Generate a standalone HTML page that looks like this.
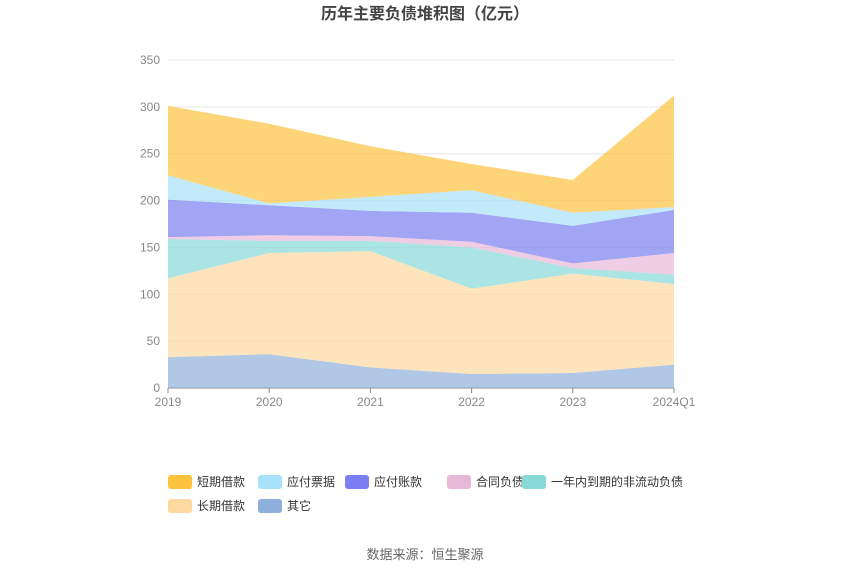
<!DOCTYPE html>
<html><head><meta charset="utf-8"><style>
body{margin:0;background:#fff;width:850px;height:575px;overflow:hidden;font-family:"Liberation Sans","Noto Sans CJK SC",sans-serif;}
</style></head><body>
<svg id="chart" width="850" height="575" xmlns="http://www.w3.org/2000/svg">
<text x="425" y="19" text-anchor="middle" font-size="16" font-weight="bold" fill="#444">历年主要负债堆积图（亿元）</text>
<g id="grid"></g><g id="areas"></g><g id="axes"></g><g id="legend"></g>
<text x="425" y="559" text-anchor="middle" font-size="13" fill="#666">数据来源：恒生聚源</text>
</svg>
<script>
const categories=["2019","2020","2021","2022","2023","2024Q1"];
const seriesNames=["其它","长期借款","一年内到期的非流动负债","合同负债","应付账款","应付票据","短期借款"];
const other=[33,36,22,15,16,25];
const longLoan=[84,108,124,91,106,86];
const currentNonCurrent=[42,13,11,44,6,10];
const contract=[2,6,5,6,5,23];
const payables=[40,32,27,31,40,46];
const notes=[26,2,15,24,14,3];
const shortLoan=[74,85,54,28,35,119];
const yTicks=[0,50,100,150,200,250,300,350];
const legendOrder=["短期借款","应付票据","应付账款","合同负债","一年内到期的非流动负债","长期借款","其它"];
const seriesData=[other,longLoan,currentNonCurrent,contract,payables,notes,shortLoan];
const colors={"其它":"#8fb0dc","长期借款":"#fdd9a0","一年内到期的非流动负债":"#88d8d8","合同负债":"#e8b8d8","应付账款":"#7b7ef0","应付票据":"#a8e1fa","短期借款":"#fdc23e"};
const slugs={"其它":"other","长期借款":"long-term-loan","一年内到期的非流动负债":"current-noncurrent","合同负债":"contract-liab","应付账款":"accounts-payable","应付票据":"notes-payable","短期借款":"short-term-loan"};
const NS="http://www.w3.org/2000/svg";
const x0=168,x1=674,y0=388,y1=60,ymax=350;
const xs=i=>x0+i*(x1-x0)/(categories.length-1);
const ys=v=>y0-v*(y0-y1)/ymax;
function mk(t,a,p){const e=document.createElementNS(NS,t);for(const k in a)e.setAttribute(k,a[k]);p.appendChild(e);return e;}
const grid=document.getElementById('grid'),axes=document.getElementById('axes'),areas=document.getElementById('areas'),legend=document.getElementById('legend');
yTicks.forEach(t=>{
 const l=mk('line',{x1:x0,x2:x1,y1:ys(t),y2:ys(t),stroke:t===0?'#888':'#e6e6e6'},grid);
 
 
 const tx=mk('text',{x:x0-8,y:ys(t)+4,'text-anchor':'end','font-size':12,fill:'#888'},axes);tx.textContent=t;
 
 
});
categories.forEach((c,i)=>{
 const tk=mk('line',{x1:xs(i),x2:xs(i),y1:y0,y2:y0+5,stroke:'#888'},axes);
 
 
 const tx=mk('text',{x:xs(i),y:y0+18,'text-anchor':'middle','font-size':12,fill:'#888'},axes);tx.textContent=c;
 
 
});
let base=categories.map(()=>0);
seriesData.forEach((arr,si)=>{
 const top=base.map((b,i)=>b+arr[i]);
 let d='M'+top.map((v,i)=>xs(i)+','+ys(v)).join('L');
 for(let i=base.length-1;i>=0;i--)d+='L'+xs(i)+','+ys(base[i]);
 d+='Z';
 const nm=seriesNames[si];
 const p=mk('path',{d:d,fill:colors[nm],'fill-opacity':0.7,stroke:'none'},areas);
 
 
 base=top;
});
const lpos=[[168,482],[258,482],[345,482],[447,482],[522,482],[168,506],[258,506]];
legendOrder.forEach((nm,i)=>{
 const g=mk('g',{},legend);
 
 
 const [lx,ly]=lpos[i];
 mk('rect',{x:lx,y:ly-7,width:24,height:14,rx:3,fill:colors[nm]},g);
 const t=mk('text',{x:lx+29,y:ly+4,'font-size':12,fill:'#333'},g);t.textContent=nm;
});
</script>
</body></html>
